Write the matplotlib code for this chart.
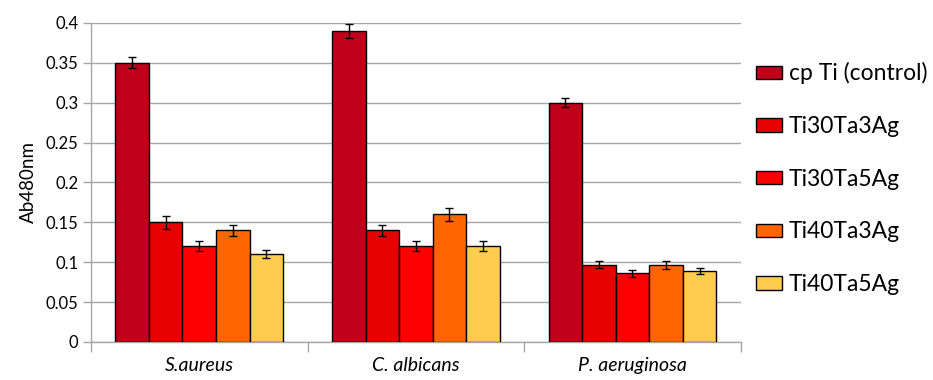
import numpy as np
import matplotlib.pyplot as plt

plt.rcParams['font.family'] = ['Lato', 'DejaVu Sans']

organisms = ["S.aureus", "C. albicans", "P. aeruginosa"]
alloys = ["cp Ti (control)", "Ti30Ta3Ag", "Ti30Ta5Ag", "Ti40Ta3Ag", "Ti40Ta5Ag"]
colors = ["#C0001A", "#E60000", "#FF0000", "#FF6600", "#FFCC4D"]

# absorbance at 480 nm, one list per alloy (S.aureus, C. albicans, P. aeruginosa)
cp_ti = [0.35, 0.39, 0.30]
ti30ta3ag = [0.15, 0.14, 0.097]
ti30ta5ag = [0.12, 0.12, 0.086]
ti40ta3ag = [0.14, 0.16, 0.096]
ti40ta5ag = [0.11, 0.12, 0.089]

cp_ti_err = [0.007, 0.009, 0.006]
ti30ta3ag_err = [0.008, 0.007, 0.004]
ti30ta5ag_err = [0.006, 0.006, 0.004]
ti40ta3ag_err = [0.007, 0.008, 0.005]
ti40ta5ag_err = [0.005, 0.006, 0.004]

values = [cp_ti, ti30ta3ag, ti30ta5ag, ti40ta3ag, ti40ta5ag]
errors = [cp_ti_err, ti30ta3ag_err, ti30ta5ag_err, ti40ta3ag_err, ti40ta5ag_err]

fig = plt.figure(figsize=(9.33, 3.8), dpi=100)
ax = fig.add_axes([0.0975, 0.10, 0.6965, 0.84])

x = np.arange(len(organisms))
w = 0.155
for i, (vals, errs) in enumerate(zip(values, errors)):
    ax.bar(x + (i - 2) * w, vals, w, yerr=errs, color=colors[i], edgecolor="black",
           linewidth=1.0, label=alloys[i], zorder=3,
           error_kw=dict(ecolor="black", elinewidth=1.0, capsize=3, capthick=1.0))

ax.set_xlim(-0.5, 2.5)
ax.set_ylim(0, 0.4)
ax.set_yticks(np.arange(0, 0.401, 0.05))
ax.set_yticklabels(["0", "0.05", "0.1", "0.15", "0.2", "0.25", "0.3", "0.35", "0.4"])
ax.yaxis.grid(True, color="#A6A6A6", linewidth=1.0, zorder=0)

# category boundaries carry the ticks, names sit in the middle
ax.set_xticks([-0.5, 0.5, 1.5, 2.5])
ax.set_xticklabels([])
ax.set_xticks(x, minor=True)
ax.set_xticklabels(organisms, minor=True, fontstyle="italic", fontsize=14)
ax.tick_params(axis="x", which="minor", length=0, pad=11)
ax.tick_params(axis="x", which="major", length=7, color="#A6A6A6", width=1)
ax.tick_params(axis="y", length=6, color="#A6A6A6", width=1, labelsize=12, pad=3)

for s in ["top", "right"]:
    ax.spines[s].set_visible(False)
for s in ["left", "bottom"]:
    ax.spines[s].set_color("#A6A6A6")
    ax.spines[s].set_linewidth(1)

ax.set_ylabel("Ab480nm", fontsize=13.5, labelpad=6)

fig.legend(loc="upper left", bbox_to_anchor=(0.800, 0.86), frameon=False,
           fontsize=16.5, handlelength=1.15, handleheight=0.52, labelspacing=1.38,
           handletextpad=0.3, borderaxespad=0)

fig.savefig("out.png", dpi=100)
